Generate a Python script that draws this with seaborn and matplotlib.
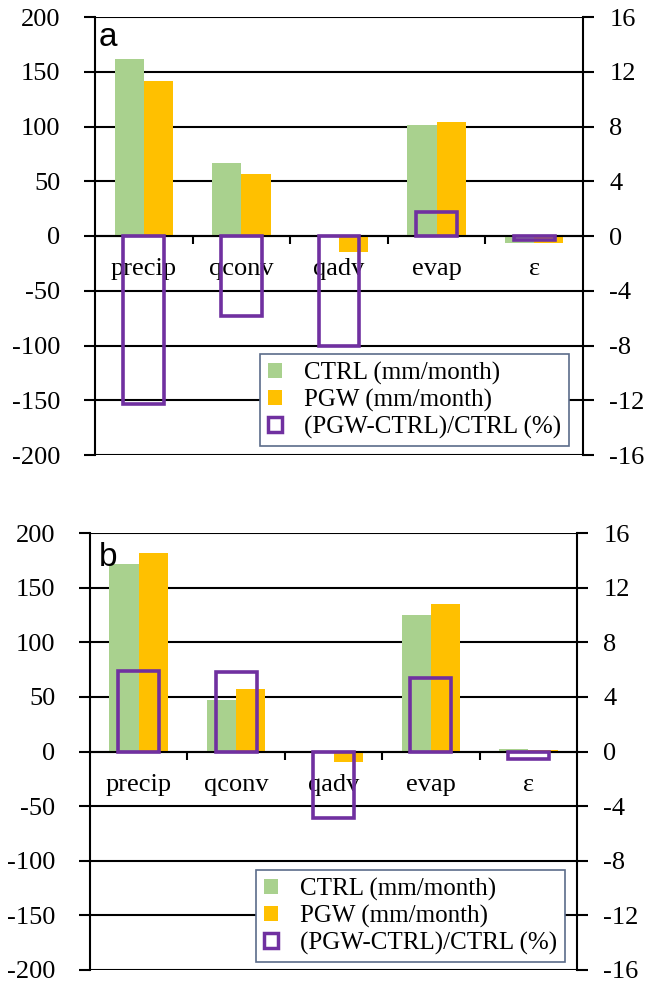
import numpy as np
import pandas as pd
import seaborn as sns
import matplotlib.pyplot as plt
from matplotlib.patches import Patch

cats = ["precip", "qconv", "qadv", "evap", "ε"]

# panel a
a_ctrl = [162, 67, -1, 101, -6]
a_pgw = [142, 57, -15, 104, -6]
a_pct = [-12.3, -5.85, -8.0, 1.75, -0.3]

# panel b
b_ctrl = [172, 47, -1, 125, 2]
b_pgw = [182, 57, -10, 135, 1]
b_pct = [5.9, 5.85, -4.85, 5.4, -0.55]

left_ticks = list(range(-200, 201, 50))
right_ticks = list(range(-16, 17, 4))

green = "#A9D18E"
orange = "#FFC000"
purple = "#7030A0"

sns.set_style("ticks")
plt.rcParams["font.family"] = "serif"
plt.rcParams["font.serif"] = ["Liberation Serif", "DejaVu Serif"]
plt.rcParams["axes.unicode_minus"] = False
for k in ["text.color", "xtick.color", "ytick.color", "axes.edgecolor",
          "axes.labelcolor"]:
    plt.rcParams[k] = "black"

SERIF = "Liberation Serif"


def draw_panel(ax, ctrl, pgw, pct, letter, letter_pos, leg_anchor):
    df = pd.DataFrame({
        "cat": cats * 2,
        "val": ctrl + pgw,
        "run": ["CTRL"] * len(cats) + ["PGW"] * len(cats),
    })
    sns.barplot(data=df, x="cat", y="val", hue="run", order=cats,
                palette=[green, orange], width=0.6, saturation=1,
                linewidth=0, legend=False, ax=ax, zorder=2)
    ax.set_ylim(-200, 200)
    ax.set_yticks(left_ticks)
    ax.set_axisbelow(True)
    ax.yaxis.grid(True, color="black", linewidth=1.5)
    ax.set_xlabel("")
    ax.set_ylabel("")
    ax.set_xlim(-0.5, len(cats) - 0.5)

    ax2 = ax.twinx()
    sns.barplot(x=cats, y=pct, order=cats, fill=False, color=purple,
                width=0.42, linewidth=2.6, ax=ax2, zorder=3)
    for p in ax2.patches:
        p.set_edgecolor(purple)
        p.set_facecolor("none")
    ax2.set_ylim(-16, 16)
    ax2.set_yticks(right_ticks)
    ax2.set_ylabel("")
    ax2.set_xlim(-0.5, len(cats) - 0.5)

    # spines: left/right frame, bottom spine moved to zero
    ax.spines["bottom"].set_position(("data", 0))
    ax.spines["bottom"].set_linewidth(1.5)
    ax.spines["top"].set_visible(False)
    ax.spines["left"].set_linewidth(1.5)
    ax.spines["right"].set_visible(False)
    for s in ["left", "top", "bottom"]:
        ax2.spines[s].set_visible(False)
    ax2.spines["right"].set_linewidth(1.5)

    ax.set_xticks(range(len(cats)))
    ax.set_xticklabels(cats, fontsize=19, family=SERIF)
    ax.set_xticks(np.arange(0.5, len(cats) - 1, 1), minor=True)
    ax.tick_params(axis="x", which="major", length=0, pad=16)
    ax.tick_params(axis="x", which="minor", length=6, width=1.5,
                   direction="out")
    ax.tick_params(axis="y", which="major", left=True, right=False,
                   direction="out", length=8, width=1.5, labelsize=19,
                   pad=17, labelfontfamily=SERIF)
    ax2.tick_params(axis="y", which="major", right=True, left=False,
                    direction="out", length=8, width=1.5, labelsize=19,
                    pad=11, labelfontfamily=SERIF)

    ax2.text(letter_pos[0], letter_pos[1], letter, transform=ax.transAxes,
             ha="left", va="top", fontsize=24, family="Liberation Sans",
             zorder=5)

    handles = [
        Patch(facecolor=green, edgecolor="none", label="CTRL (mm/month)"),
        Patch(facecolor=orange, edgecolor="none", label="PGW (mm/month)"),
        Patch(facecolor="white", edgecolor=purple, linewidth=2.5,
              label="(PGW-CTRL)/CTRL (%)"),
    ]
    leg = ax2.legend(handles=handles, loc="lower right",
                     bbox_to_anchor=leg_anchor, borderaxespad=0,
                     prop={"family": SERIF, "size": 18},
                     frameon=True, fancybox=False,
                     framealpha=1, edgecolor="#5B6C8A",
                     handlelength=0.55, handleheight=0.55, handletextpad=0.9,
                     borderpad=0.3, labelspacing=0.15)
    leg.get_frame().set_linewidth(1.2)


fig = plt.figure(figsize=(6.57, 9.82), dpi=100)
ax_a = fig.add_axes([95 / 657, 1 - 455 / 982, 488 / 657, 438 / 982])
ax_b = fig.add_axes([90 / 657, 1 - 970 / 982, 487 / 657, 437 / 982])

draw_panel(ax_a, a_ctrl, a_pgw, a_pct, "a", (0.008, 0.989), (0.971, 0.02))
draw_panel(ax_b, b_ctrl, b_pgw, b_pct, "b", (0.018, 0.979), (0.975, 0.018))

fig.savefig("out.png", dpi=100)
